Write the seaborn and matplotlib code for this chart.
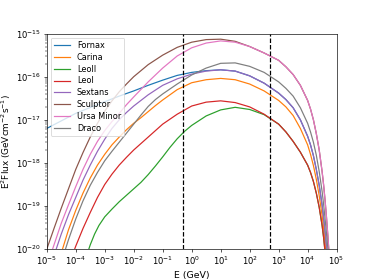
import numpy as np
import matplotlib
matplotlib.use("Agg")
import matplotlib.pyplot as plt
import seaborn as sns
from matplotlib.ticker import NullLocator

# log10(E / GeV) and log10(E^2 Flux)
names = ["Fornax", "Carina", "LeoII", "LeoI", "Sextans", "Sculptor", "Ursa Minor", "Draco"]

fornax_loge = [-5, -4, -3, -2.5, -2, -1.5, -1, -0.5, 0, 0.5, 1, 1.5, 2, 2.5,
               3, 3.25, 3.5, 3.75, 4, 4.1, 4.2, 4.3, 4.4, 4.5, 4.55, 4.6, 4.65, 4.7]
fornax_logf = [-17.2, -16.85, -16.58, -16.45, -16.33, -16.2, -16.08, -15.97, -15.9, -15.86, -15.84, -15.87, -15.98, -16.15,
               -16.38, -16.53, -16.72, -17.0, -17.38, -17.58, -17.83, -18.15, -18.52, -18.98, -19.27, -19.6, -19.95, -20.3]

carina_loge = [-4.55, -4.25, -4, -3.75, -3.5, -3.25, -3, -2.75, -2.5, -2.25, -2, -1.75, -1.5, -1.25, -1, -0.5, 0, 0.5, 1, 1.5, 2, 2.5,
               3, 3.25, 3.5, 3.75, 4, 4.1, 4.2, 4.3, 4.4, 4.5, 4.55, 4.6, 4.65]
carina_logf = [-20.2, -19.55, -19.1, -18.7, -18.35, -18.05, -17.8, -17.58, -17.4, -17.23, -17.08, -16.95, -16.81, -16.67, -16.54,
               -16.3, -16.14, -16.07, -16.04, -16.07, -16.17, -16.33,
               -16.55, -16.7, -16.9, -17.2, -17.58, -17.8, -18.06, -18.38, -18.76, -19.22, -19.5, -19.82, -20.2]

leoii_loge = [-3.65, -3.5, -3.35, -3.2, -3, -2.75, -2.5, -2.25, -2, -1.75, -1.5, -1.25, -1, -0.75, -0.5, -0.25, 0, 0.5, 1, 1.5, 2, 2.5,
              3, 3.25, 3.5, 3.75, 4, 4.1, 4.2, 4.3, 4.4, 4.5, 4.55, 4.6]
leoii_logf = [-20.2, -19.9, -19.65, -19.45, -19.25, -19.07, -18.9, -18.75, -18.6, -18.45, -18.27, -18.07, -17.86, -17.64, -17.44,
              -17.27, -17.13, -16.91, -16.77, -16.71, -16.76, -16.88,
              -17.1, -17.28, -17.5, -17.75, -18.05, -18.22, -18.43, -18.7, -19.03, -19.45, -19.72, -20.05]

leoi_loge = [-4.15, -4, -3.75, -3.5, -3.25, -3, -2.75, -2.5, -2.25, -2, -1.5, -1, -0.5, 0, 0.5, 1, 1.5, 2, 2.5,
             3, 3.25, 3.5, 3.75, 4, 4.1, 4.2, 4.3, 4.4, 4.5, 4.55, 4.6]
leoi_logf = [-20.2, -19.93, -19.52, -19.15, -18.8, -18.5, -18.26, -18.05, -17.87, -17.7, -17.4, -17.1, -16.87, -16.68, -16.59,
             -16.56, -16.6, -16.7, -16.87,
             -17.1, -17.28, -17.5, -17.75, -18.05, -18.22, -18.43, -18.7, -19.03, -19.45, -19.72, -20.05]

sextans_loge = [-4.75, -4.5, -4.25, -4, -3.75, -3.5, -3.25, -3, -2.75, -2.5, -2.25, -2, -1.5, -1, -0.5, 0, 0.5, 1, 1.5, 2, 2.5,
                3, 3.25, 3.5, 3.75, 4, 4.1, 4.2, 4.3, 4.4, 4.5, 4.55, 4.6, 4.65, 4.7]
sextans_logf = [-20.15, -19.65, -19.2, -18.8, -18.4, -18.05, -17.73, -17.45, -17.2, -17.0, -16.83, -16.68, -16.42, -16.2, -16.05,
                -15.94, -15.87, -15.84, -15.87, -15.98, -16.15,
                -16.38, -16.53, -16.72, -17.0, -17.38, -17.58, -17.83, -18.15, -18.52, -18.98, -19.27, -19.6, -19.95, -20.3]

sculptor_loge = [-5, -4.75, -4.5, -4.25, -4, -3.75, -3.5, -3.25, -3, -2.75, -2.5, -2.25, -2, -1.5, -1, -0.5, 0, 0.5, 1, 1.5, 2, 2.5,
                 3, 3.25, 3.5, 3.75, 4, 4.1, 4.2, 4.3, 4.4, 4.5, 4.55, 4.6, 4.65, 4.7, 4.75]
sculptor_logf = [-20.0, -19.52, -19.05, -18.6, -18.15, -17.76, -17.4, -17.08, -16.8, -16.56, -16.35, -16.17, -16.0, -15.72,
                 -15.5, -15.32, -15.2, -15.14, -15.13, -15.18, -15.3, -15.45,
                 -15.62, -15.77, -15.95, -16.2, -16.55, -16.75, -17.0, -17.32, -17.7, -18.2, -18.5, -18.85, -19.25, -19.7, -20.2]

ursa_loge = [-4.9, -4.75, -4.5, -4.25, -4, -3.75, -3.5, -3.25, -3, -2.75, -2.5, -2.25, -2, -1.5, -1, -0.5, 0, 0.5, 1, 1.5, 2, 2.5,
             3, 3.25, 3.5, 3.75, 4, 4.1, 4.2, 4.3, 4.4, 4.5, 4.55, 4.6, 4.65, 4.7, 4.75]
ursa_logf = [-20.2, -19.9, -19.4, -18.97, -18.55, -18.15, -17.8, -17.5, -17.25, -17.04, -16.85, -16.65, -16.47, -16.12, -15.8,
             -15.52, -15.33, -15.22, -15.17, -15.2, -15.3, -15.45,
             -15.62, -15.77, -15.95, -16.2, -16.55, -16.75, -17.0, -17.32, -17.7, -18.2, -18.5, -18.85, -19.25, -19.7, -20.2]

draco_loge = [-4.45, -4.25, -4, -3.75, -3.5, -3.25, -3, -2.75, -2.5, -2.25, -2, -1.75, -1.5, -1.25, -1, -0.5, 0, 0.5, 1, 1.5, 2, 2.5,
              3, 3.25, 3.5, 3.75, 4, 4.1, 4.2, 4.3, 4.4, 4.5, 4.55, 4.6, 4.65, 4.7, 4.75]
draco_logf = [-20.2, -19.78, -19.3, -18.88, -18.52, -18.22, -17.95, -17.73, -17.52, -17.31, -17.1, -16.89, -16.69, -16.53, -16.4,
              -16.17, -15.96, -15.8, -15.69, -15.68, -15.76, -15.9,
              -16.12, -16.27, -16.45, -16.72, -17.08, -17.28, -17.52, -17.82, -18.2, -18.66, -18.95, -19.28, -19.63, -20.0, -20.4]

band_edges = [0.5, 500]
x_decades = list(range(-5, 6))
y_decades = list(range(-20, -14))

curves = [
    (fornax_loge, fornax_logf), (carina_loge, carina_logf), (leoii_loge, leoii_logf),
    (leoi_loge, leoi_logf), (sextans_loge, sextans_logf), (sculptor_loge, sculptor_logf),
    (ursa_loge, ursa_logf), (draco_loge, draco_logf),
]

colors = sns.color_palette("tab10", 8)

fig, ax = plt.subplots(figsize=(6.4, 4.792), dpi=58.4375)

for name, (le, lf), c in zip(names, curves, colors):
    sns.lineplot(x=10.0 ** np.array(le), y=10.0 ** np.array(lf), ax=ax, color=c, label=name, linewidth=1.5)

for e in band_edges:
    ax.axvline(e, color="k", linestyle="--", linewidth=1.5)

ax.set_xscale("log")
ax.set_yscale("log")
ax.set_xticks([10.0 ** k for k in x_decades])
ax.set_yticks([10.0 ** k for k in y_decades])
ax.set_xlim(1e-5, 1e5)
ax.set_ylim(1e-20, 1e-15)
ax.xaxis.set_minor_locator(NullLocator())
ax.tick_params(labelsize=10.5)

ax.set_xlabel("E (GeV)", fontsize=11.5)
ax.set_ylabel(r"E$^2$Flux (GeVcm$^{-2}$s$^{-1}$)", fontsize=11)
ax.legend(loc="upper left", fontsize=10, labelspacing=0.35)

plt.savefig("out.png", dpi=58.4375)
plt.close()
